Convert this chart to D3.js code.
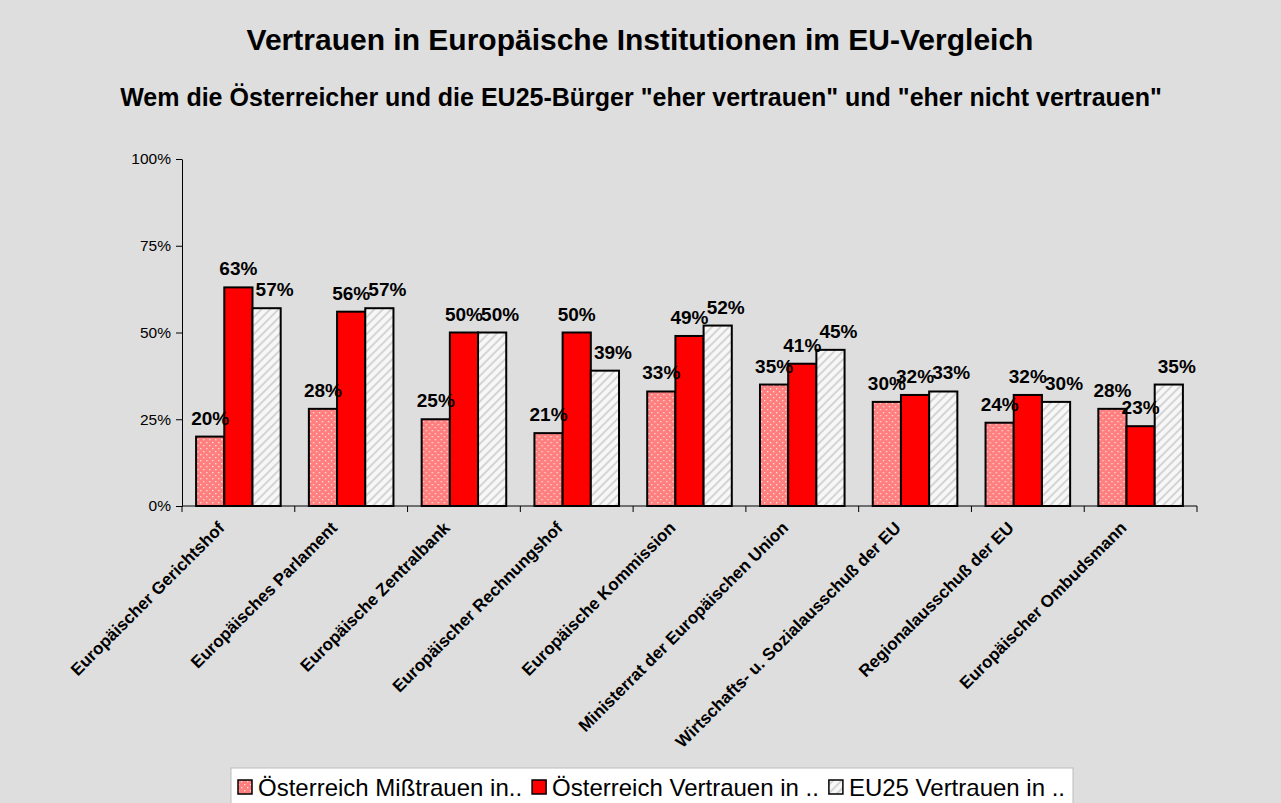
<!DOCTYPE html>
<html>
<head>
<meta charset="utf-8">
<script src="https://cdn.jsdelivr.net/npm/d3@7"></script>
<style>
  body { margin: 0; background: #dedede; }
  svg { font-family: Arial, "Liberation Sans", sans-serif; }
</style>
</head>
<body>
<div id="chart"></div>
<script>
const categories = [
  'Europäischer Gerichtshof',
  'Europäisches Parlament',
  'Europäische Zentralbank',
  'Europäischer Rechnungshof',
  'Europäische Kommission',
  'Ministerrat der Europäischen Union',
  'Wirtschafts- u. Sozialausschuß der EU',
  'Regionalausschuß der EU',
  'Europäischer Ombudsmann'
]
const seriesNames = ['Österreich Mißtrauen in..', 'Österreich Vertrauen in ..', 'EU25 Vertrauen in ..']
const atMisstrauen = [20, 28, 25, 21, 33, 35, 30, 24, 28]
const atVertrauen = [63, 56, 50, 50, 49, 41, 32, 32, 23]
const eu25Vertrauen = [57, 57, 50, 39, 52, 45, 33, 30, 35]
const yTicks = [0, 25, 50, 75, 100]

const W = 1281, H = 803
const svg = d3.select('#chart').append('svg')
  .attr('width', W)
  .attr('height', H)

svg.append('rect').attr('width', W).attr('height', H).style('fill', '#dedede')

// fill patterns
const defs = svg.append('defs')
const dots = defs.append('pattern')
  .attr('id', 'dots')
  .attr('patternUnits', 'userSpaceOnUse')
  .attr('width', 6).attr('height', 6)
dots.append('rect').attr('width', 6).attr('height', 6).style('fill', '#ff7f7f')
dots.append('rect').attr('x', 1).attr('y', 1).attr('width', 1.3).attr('height', 1.3).style('fill', '#ffe0e0')
dots.append('rect').attr('x', 4).attr('y', 4).attr('width', 1.3).attr('height', 1.3).style('fill', '#ffe0e0')

const hatch = defs.append('pattern')
  .attr('id', 'hatch')
  .attr('patternUnits', 'userSpaceOnUse')
  .attr('width', 6).attr('height', 6)
  .attr('patternTransform', 'rotate(45)')
hatch.append('rect').attr('width', 6).attr('height', 6).style('fill', '#f7f7f7')
hatch.append('rect').attr('width', 2).attr('height', 6).style('fill', '#d4d4d4')

const fills = ['url(#dots)', '#ff0000', 'url(#hatch)']
// EU25 labels sit a bit right of their bars in the original
const labelShift = [0, 0, 8]

const data = categories.map((c, i) => ({
  cat: c,
  vals: [atMisstrauen[i], atVertrauen[i], eu25Vertrauen[i]]
}))

const margin = { left: 182, right: 1197, top: 159, bottom: 506 }

const x = d3.scaleBand()
  .domain(categories)
  .range([margin.left, margin.right])
  .paddingInner(0.25)
  .paddingOuter(0.125)

const xs = d3.scaleBand()
  .domain([0, 1, 2])
  .range([0, x.bandwidth()])

const y = d3.scaleLinear()
  .domain([0, 100])
  .range([margin.bottom, margin.top])

// titles
svg.append('text')
  .attr('x', 640)
  .attr('y', 50)
  .attr('text-anchor', 'middle')
  .style('font-size', '30px')
  .style('font-weight', 'bold')
  .text('Vertrauen in Europäische Institutionen im EU-Vergleich')

svg.append('text')
  .attr('x', 641)
  .attr('y', 106)
  .attr('text-anchor', 'middle')
  .style('font-size', '25px')
  .style('font-weight', 'bold')
  .text('Wem die Österreicher und die EU25-Bürger "eher vertrauen" und "eher nicht vertrauen"')

// y axis
const yAxis = svg.append('g')
  .attr('transform', `translate(${margin.left},0)`)
  .call(d3.axisLeft(y).tickValues(yTicks).tickFormat(d => d + '%').tickSize(6).tickSizeOuter(0))
yAxis.select('.domain').style('stroke', '#000')
yAxis.selectAll('text').style('font-size', '15.5px').style('font-family', 'Arial, "Liberation Sans", sans-serif').attr('x', -11)

// x axis
const xAxis = svg.append('g')
xAxis.append('line')
  .attr('x1', margin.left).attr('x2', margin.right)
  .attr('y1', margin.bottom).attr('y2', margin.bottom)
  .style('stroke', '#000')
xAxis.selectAll('.tick')
  .data(d3.range(categories.length + 1))
  .join('line')
  .attr('x1', i => margin.left + i * (margin.right - margin.left) / categories.length)
  .attr('x2', i => margin.left + i * (margin.right - margin.left) / categories.length)
  .attr('y1', margin.bottom)
  .attr('y2', margin.bottom + 6)
  .style('stroke', '#000')

xAxis.selectAll('.catlabel')
  .data(categories)
  .join('text')
  .attr('transform', d => `translate(${x(d) + x.bandwidth() / 2 - 13},${margin.bottom + 23}) rotate(-45)`)
  .attr('text-anchor', 'end')
  .style('font-size', '17px')
  .style('font-weight', 'bold')
  .text(d => d)

// bars
const groups = svg.selectAll('.group')
  .data(data)
  .join('g')
  .attr('transform', d => `translate(${x(d.cat)},0)`)

groups.selectAll('rect')
  .data(d => d.vals)
  .join('rect')
  .attr('x', (v, i) => xs(i))
  .attr('y', v => y(v))
  .attr('width', xs.bandwidth())
  .attr('height', v => y(0) - y(v))
  .style('fill', (v, i) => fills[i])
  .style('stroke', '#000')
  .style('stroke-width', 2)

groups.selectAll('.lbl')
  .data(d => d.vals)
  .join('text')
  .attr('x', (v, i) => xs(i) + xs.bandwidth() / 2 + labelShift[i])
  .attr('y', v => y(v) - 12)
  .attr('text-anchor', 'middle')
  .style('font-size', '19px')
  .style('font-weight', 'bold')
  .text(v => v + '%')

// legend
const legend = svg.append('g')
legend.append('rect')
  .attr('x', 231).attr('y', 768)
  .attr('width', 842).attr('height', 40)
  .style('fill', '#fff')
  .style('stroke', '#bbb')
  .style('stroke-width', 1)

let lx = 238
seriesNames.forEach((name, i) => {
  legend.append('rect')
    .attr('x', lx).attr('y', 780)
    .attr('width', 14).attr('height', 14)
    .style('fill', fills[i])
    .style('stroke', '#000')
    .style('stroke-width', 1.5)
  const t = legend.append('text')
    .attr('x', lx + 20).attr('y', 796)
    .style('font-size', '24px')
    .text(name)
  lx += 20 + t.node().getComputedTextLength() + 10
})
</script>
</body>
</html>
